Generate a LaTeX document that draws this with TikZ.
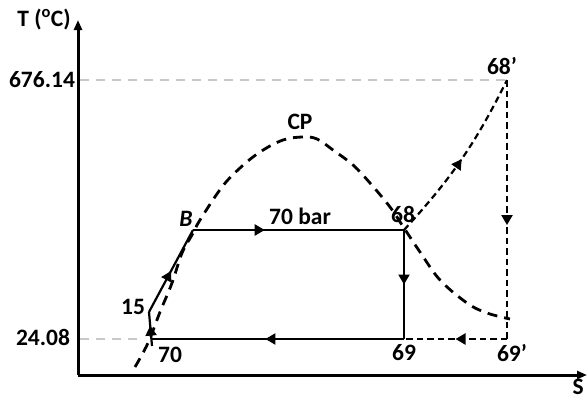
\documentclass[tikz,border=0pt]{standalone}
\usepackage{fontspec}
\setmainfont{Carlito}
\usetikzlibrary{arrows.meta,decorations.markings}
\definecolor{cgrid}{RGB}{200,200,200}
\tikzset{tsdiag/.style={x=1pt,y=-1pt,font=\fontsize{23.5}{27}\selectfont\bfseries},
  proc/.style={line width=2.2pt},
  dproc/.style={line width=2.2pt,dash pattern=on 6.5pt off 4pt},
  dome/.style={line width=2.8pt,dash pattern=on 10pt off 7pt},
  guide/.style={cgrid,line width=2.2pt,dash pattern=on 9pt off 7pt},
  midarrow/.style={postaction={decorate,decoration={markings,
    mark=at position #1 with {\arrow{Triangle[length=10pt,width=11pt]}}}}},
  midarrow/.default=0.5}

\begin{document}
\begin{tikzpicture}[tsdiag]
    \useasboundingbox (0,0) rectangle (587,397);
    % state points
    \coordinate (o)    at (78,375);
    \coordinate (p70)  at (152,346);
    \coordinate (p15)  at (149,312);
    \coordinate (pB)   at (193,230);
    \coordinate (p68)  at (404,230);
    \coordinate (p69)  at (404,339);
    \coordinate (p68p) at (507,80);
    \coordinate (p69p) at (507,339);
    \coordinate (ytop) at (78,20);
    \coordinate (xend) at (587,375);
    % axes
    \draw[line width=3pt,-{Triangle[length=10pt,width=8pt]}] (o) -- (ytop);
    \draw[line width=3pt,-{Triangle[length=10pt,width=8pt]}] (o) -- (xend);
    \node (tlab) at (44,20) {T (\textsuperscript{o}C)};
    \node[anchor=south east,inner sep=1pt] (slab) at (585,396) {S};
    % guide lines
    \node (thi) at (42,80) {676.14};
    \node (tlo) at (43,337) {24.08};
    \draw[guide] (80,80) -- (p68p);
    \draw[guide] (80,339) -- (138,339);
    % saturation dome
    \draw[dome] plot[smooth,tension=0.6] coordinates {(135,367) (148,343) (160,312) (172,283)
      (182,253) (192,235) (200,220) (222,187) (240,168) (260,152) (283,140) (303,137)
      (317,139) (333,150) (353,165) (370,183) (390,207) (404,228) (420,252) (440,280)
      (467,303) (487,313) (510,319)};
    \node (cp) at (300,122) {CP};
    % cycle
    \draw[proc,midarrow=0.6] (p70) -- (p15);
    \draw[proc,midarrow] (p15) -- (pB);
    \draw[proc,midarrow=0.34] (pB) -- (p68);
    \draw[proc,midarrow] (p68) -- (p69);
    \draw[proc,midarrow=0.55] (p69) -- (p70 |- p69);
    \draw[dproc,midarrow] (p68) to[bend right=8] (p68p);
    \draw[dproc,midarrow=0.56] (p68p) -- (p69p);
    \draw[dproc,midarrow] (p69p) -- (p69);
    % labels
    \node (lB)   at (186,219) {\itshape B};
    \node (lbar) at (300,216) {70 bar};
    \node (l68)  at (403,214) {68};
    \node (l68p) at (502,66) {68’};
    \node (l15)  at (133,307) {15};
    \node (l70)  at (170,355) {70};
    \node (l69)  at (404,353) {69};
    \node (l69p) at (512,353) {69’};
  \end{tikzpicture}
\end{document}
